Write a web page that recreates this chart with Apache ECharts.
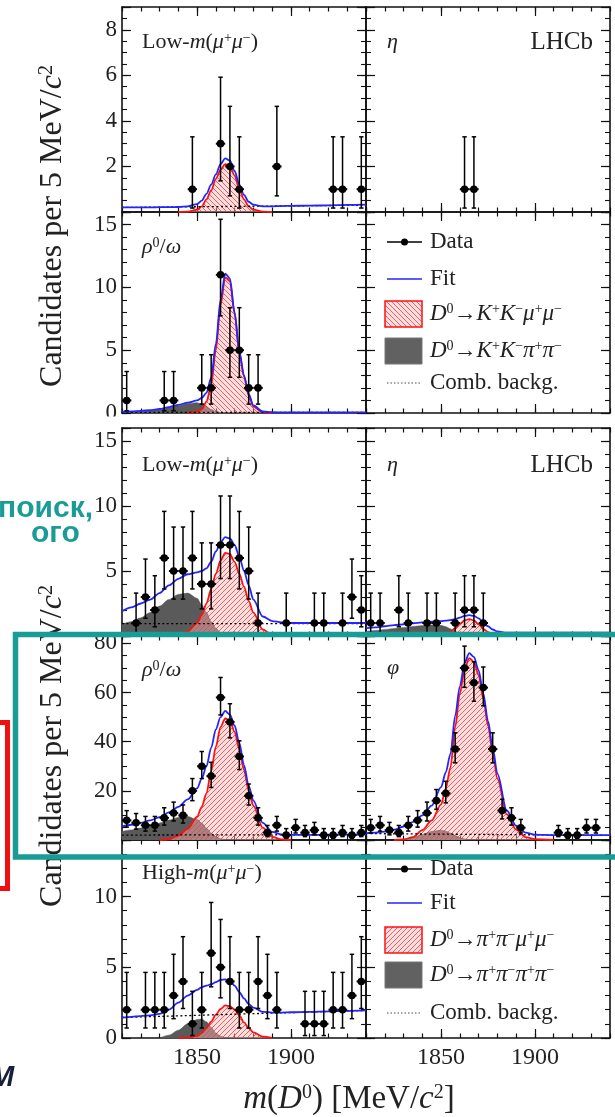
<!DOCTYPE html>
<html>
<head>
<meta charset="utf-8">
<title>D0 → h+h−μ+μ− candidates</title>
<script src="https://cdn.jsdelivr.net/npm/echarts@6.0.0/dist/echarts.min.js"></script>
<style>
  html, body { margin: 0; padding: 0; background: #ffffff; }
  #chart { width: 615px; height: 1117px; }
</style>
</head>
<body>
<div id="chart"></div>
<script>
// ---------- m(D0) binning, 5 MeV/c^2 per bin ----------
const BIN_CENTRES = [1812.5, 1817.5, 1822.5, 1827.5, 1832.5, 1837.5, 1842.5, 1847.5, 1852.5,
  1857.5, 1862.5, 1867.5, 1872.5, 1877.5, 1882.5, 1887.5, 1892.5, 1897.5, 1902.5, 1907.5,
  1912.5, 1917.5, 1922.5, 1927.5, 1932.5, 1937.5];

// ---------- candidates per bin ----------
const KK_LOW_COUNTS  = [0,0,0,0,0,0,0,1,0,0,3,2,1,0,0,0,2,0,0,0,0,0,1,1,0,1];
const KK_ETA_COUNTS  = [0,0,0,0,0,0,0,0,0,0,1,1,0,0,0,0,0,0,0,0,0,0,0,0,0,0];
const KK_RHO_COUNTS  = [1,0,0,0,1,1,0,0,2,2,11,5,5,2,2,0,0,0,0,0,0,0,0,0,0,0];
const PP_LOW_COUNTS  = [0,1,3,2,6,5,5,6,4,4,7,7,6,5,1,0,0,1,0,0,1,1,0,1,3,2];
const PP_ETA_COUNTS  = [1,1,0,2,1,0,1,1,0,1,2,2,1,0,0,0,0,0,0,0,0,0,0,0,0,0];
const PP_RHO_COUNTS  = [8,7,6,6,9,11,10,20,30,26,58,48,34,18,9,3,6,2,5,3,4,2,2,3,2,3];
const PP_PHI_COUNTS  = [5,6,4,3,6,8,11,16,19,37,70,64,62,37,12,9,5,0,0,0,3,2,2,5,5,0];
const PP_HIGH_COUNTS = [2,0,2,2,2,3,4,1,2,6,5,4,2,2,4,3,2,0,0,1,1,1,2,2,3,4];

// 68% Poisson intervals for small counts (n = 0..12)
const POISSON_LO = [0, 0.173, 0.708, 1.367, 2.086, 2.840, 3.620, 4.419, 5.232, 6.057, 6.891, 7.734, 8.585];
const POISSON_HI = [1.841, 3.300, 4.638, 5.918, 7.163, 8.382, 9.584, 10.77, 11.95, 13.11, 14.27, 15.42, 16.56];

// ---------- fit projections along m(D0) ----------
const FIT_M = [1810, 1815, 1820, 1825, 1830, 1835, 1840, 1845, 1850, 1852.5, 1855, 1857.5, 1860,
  1862.5, 1865, 1867.5, 1870, 1872.5, 1875, 1877.5, 1880, 1885, 1890, 1895, 1900, 1910, 1920, 1930, 1940];

const KK_LOW_FIT = [0.2,0.2,0.2,0.2,0.21,0.21,0.22,0.25,0.35,0.5,0.8,1.2,1.65,2.1,2.35,2.25,1.8,1.2,0.75,0.45,0.32,0.25,0.25,0.26,0.27,0.28,0.29,0.31,0.32];
const KK_LOW_SIG = [null,null,null,null,null,null,0,0.02,0.1,0.25,0.55,0.95,1.45,1.85,2.1,2.0,1.6,1.0,0.55,0.25,0.1,0.02,0,null,null,null,null,null,null];
const KK_LOW_COMB = [0.2, 0.3];

const KK_RHO_FIT = [0.1,0.13,0.17,0.23,0.32,0.47,0.65,0.82,1.0,1.2,1.6,2.8,5.5,9.0,11.1,10.7,8.0,4.9,3.0,1.5,0.6,0.12,0.06,0.05,0.05,0.05,0.05,0.05,0.05];
const KK_RHO_SIG = [null,null,null,null,null,null,null,0,0.1,0.3,0.9,2.2,5.0,8.6,10.8,10.5,7.9,4.8,2.9,1.4,0.5,0.05,0,null,null,null,null,null,null];
const KK_RHO_MISID = [0.05,0.08,0.12,0.18,0.27,0.42,0.6,0.76,0.82,0.72,0.5,0.28,0.12,0.04,0.01,0,null,null,null,null,null,null,null,null,null,null,null,null,null];
const KK_RHO_COMB = [0.05, 0.05];

const PP_LOW_FIT = [1.9,2.2,2.5,2.8,3.3,3.9,4.4,4.75,4.9,5.0,5.2,5.7,6.5,7.2,7.6,7.5,7.0,6.1,5.0,3.9,2.8,1.5,1.15,1.05,1.0,1.0,1.0,1.0,1.0];
const PP_LOW_SIG = [null,null,null,null,null,0,0.1,0.35,1.0,1.6,2.5,3.6,4.8,5.8,6.4,6.3,5.7,4.8,3.8,2.7,1.8,0.5,0.1,0,null,null,null,null,null];
const PP_LOW_MISID = [0.9,1.1,1.4,1.8,2.3,2.8,3.2,3.3,2.9,2.4,1.8,1.1,0.6,0.25,0.1,0.03,0,null,null,null,null,null,null,null,null,null,null,null,null];
const PP_LOW_COMB = [0.95, 0.95];

const PP_ETA_FIT = [0.6,0.67,0.75,0.83,0.9,0.98,1.05,1.1,1.15,1.18,1.22,1.3,1.42,1.55,1.6,1.55,1.35,1.05,0.75,0.5,0.35,0.26,0.25,0.25,0.25,0.25,0.25,0.25,0.25];
const PP_ETA_SIG = [null,null,null,null,null,null,null,null,0,0.1,0.3,0.6,0.95,1.2,1.3,1.2,0.9,0.55,0.3,0.12,0.05,0,null,null,null,null,null,null,null];
const PP_ETA_MISID = [0.35,0.42,0.5,0.58,0.65,0.73,0.8,0.85,0.82,0.72,0.55,0.35,0.2,0.1,0.04,0.01,0,null,null,null,null,null,null,null,null,null,null,null,null];
const PP_ETA_COMB = [0.25, 0.25];

const PP_RHO_FIT = [5.5,6.2,7.0,8.0,9.3,11.2,13.5,16.5,21,25,30,37.5,45,50,52.5,51,46.5,39.5,30.5,22,16,7,3.3,2.3,2.1,2.1,2.15,2.2,2.25];
const PP_RHO_SIG = [null,null,null,null,0,0.3,1.8,4.5,9.5,13.5,19,28,38,46,49.5,48.5,44,37,28.5,20,14,5,1.3,0.2,0,null,null,null,null];
const PP_RHO_MISID = [3.5,4.1,4.9,5.8,6.9,8.1,9.2,9.6,8.3,6.8,4.8,2.8,1.3,0.5,0.15,0.03,0,null,null,null,null,null,null,null,null,null,null,null,null];
const PP_RHO_COMB = [2.0, 2.2];

const PP_PHI_FIT = [2.8,3.0,3.4,4.2,5.5,7.3,10,14,21.5,27.5,35,50.5,62.5,72,76,74.5,69,59.5,48.5,37.5,27,12,5.8,3.0,2.2,2.0,2.0,2.0,2.0];
const PP_PHI_SIG = [null,null,null,0,0.2,1.2,4.0,8.0,14.5,21,29.5,46,59.5,69.5,74,72.5,67,57.5,46.5,35.5,25,10.5,4.2,1.2,0.3,0,null,null,null];
const PP_PHI_MISID = [null,null,null,0,0.3,1.0,2.2,3.5,4.0,3.6,2.8,1.8,0.9,0.4,0.1,0,null,null,null,null,null,null,null,null,null,null,null,null,null];
const PP_PHI_COMB = [2.6, 1.9];

const PP_HIGH_FIT = [1.45,1.5,1.55,1.6,1.7,2.0,2.5,3.0,3.4,3.6,3.7,3.8,3.95,4.1,4.15,4.05,3.7,3.25,2.8,2.4,2.15,1.85,1.8,1.8,1.82,1.85,1.88,1.92,1.95];
const PP_HIGH_SIG = [null,null,null,null,null,null,0,0.02,0.15,0.35,0.7,1.15,1.65,2.05,2.3,2.25,2.0,1.6,1.1,0.7,0.4,0.1,0,null,null,null,null,null,null];
const PP_HIGH_MISID = [null,null,null,null,0,0.2,0.55,1.0,1.3,1.35,1.15,0.75,0.35,0.12,0.03,0,null,null,null,null,null,null,null,null,null,null,null,null,null];
const PP_HIGH_COMB = [1.45, 1.95];

// ---------- tick labels ----------
const X_TICK_LABELS = [1850, 1900];
const Y_TICKS_KK_LOW = [2, 4, 6, 8];
const Y_TICKS_KK_RHO = [0, 5, 10, 15];
const Y_TICKS_PP_LOW = [5, 10, 15];
const Y_TICKS_PP_RHO = [20, 40, 60, 80];
const Y_TICKS_PP_HIGH = [0, 5, 10];

// ---------- styling ----------
const SERIF = '"Liberation Serif", "Times New Roman", "DejaVu Serif", serif';
const SANS = '"Liberation Sans", Arial, "DejaVu Sans", sans-serif';
const TEAL = '#1a9c96';
const FIT_BLUE = '#2424ff';
const SIG_RED = '#ff1010';
const MISID_GREY = '#5a5a5a';
const FRAME = '#111111';

function hatch(dir) {
  const s = 5;
  const c = document.createElement('canvas');
  c.width = s; c.height = s;
  const g = c.getContext('2d');
  g.fillStyle = 'rgba(255,185,185,0.45)';
  g.fillRect(0, 0, s, s);
  g.strokeStyle = 'rgba(240,70,70,0.85)';
  g.lineWidth = 1;
  g.beginPath();
  if (dir > 0) {
    g.moveTo(-1, s + 1); g.lineTo(s + 1, -1);
    g.moveTo(-1, 1); g.lineTo(1, -1);
    g.moveTo(s - 1, s + 1); g.lineTo(s + 1, s - 1);
  } else {
    g.moveTo(-1, -1); g.lineTo(s + 1, s + 1);
    g.moveTo(s - 1, -1); g.lineTo(s + 1, 1);
    g.moveTo(-1, s - 1); g.lineTo(1, s + 1);
  }
  g.stroke();
  return { image: c, repeat: 'repeat' };
}
const HATCH_KK = hatch(-1);
const HATCH_PP = hatch(1);

// panel layout: two columns, top figure (K+K-) and bottom figure (pi+pi-)
const PANELS = [
  { left: 122, top: 7,   height: 205, yMax: 9,  yMajor: 2,  yMinor: 0.5, yTicks: Y_TICKS_KK_LOW,
    counts: KK_LOW_COUNTS, fit: KK_LOW_FIT, sig: KK_LOW_SIG, misid: null, comb: KK_LOW_COMB, hatch: HATCH_KK },
  { left: 366, top: 7,   height: 205, yMax: 9,  yMajor: 2,  yMinor: 0.5,
    counts: KK_ETA_COUNTS },
  { left: 122, top: 212, height: 201, yMax: 16, yMajor: 5,  yMinor: 1, yTicks: Y_TICKS_KK_RHO,
    counts: KK_RHO_COUNTS, fit: KK_RHO_FIT, sig: KK_RHO_SIG, misid: KK_RHO_MISID, comb: KK_RHO_COMB, hatch: HATCH_KK },
  { left: 366, top: 212, height: 201, yMax: 16, yMajor: 5,  yMinor: 1 },
  { left: 122, top: 428, height: 208, yMax: 16, yMajor: 5,  yMinor: 1, yTicks: Y_TICKS_PP_LOW,
    counts: PP_LOW_COUNTS, fit: PP_LOW_FIT, sig: PP_LOW_SIG, misid: PP_LOW_MISID, comb: PP_LOW_COMB, hatch: HATCH_PP },
  { left: 366, top: 428, height: 208, yMax: 16, yMajor: 5,  yMinor: 1,
    counts: PP_ETA_COUNTS, fit: PP_ETA_FIT, sig: PP_ETA_SIG, misid: PP_ETA_MISID, comb: PP_ETA_COMB, hatch: HATCH_PP },
  { left: 122, top: 636, height: 204, yMax: 83, yMajor: 20, yMinor: 5, yTicks: Y_TICKS_PP_RHO,
    counts: PP_RHO_COUNTS, fit: PP_RHO_FIT, sig: PP_RHO_SIG, misid: PP_RHO_MISID, comb: PP_RHO_COMB, hatch: HATCH_PP },
  { left: 366, top: 636, height: 204, yMax: 83, yMajor: 20, yMinor: 5,
    counts: PP_PHI_COUNTS, fit: PP_PHI_FIT, sig: PP_PHI_SIG, misid: PP_PHI_MISID, comb: PP_PHI_COMB, hatch: HATCH_PP },
  { left: 122, top: 840, height: 198, yMax: 14, yMajor: 5,  yMinor: 1, yTicks: Y_TICKS_PP_HIGH, xLabels: true,
    counts: PP_HIGH_COUNTS, fit: PP_HIGH_FIT, sig: PP_HIGH_SIG, misid: PP_HIGH_MISID, comb: PP_HIGH_COMB, hatch: HATCH_PP },
  { left: 366, top: 840, height: 198, yMax: 14, yMajor: 5,  yMinor: 1, xLabels: true }
];
const PANEL_W = 244;

function curve(vals) {
  const out = [];
  FIT_M.forEach((m, i) => { if (vals[i] !== null) out.push([m, vals[i]]); });
  return out;
}
function points(counts) {
  const rows = [];
  counts.forEach((n, i) => {
    if (n <= 0) return;
    let lo, hi;
    if (n < POISSON_LO.length) { lo = POISSON_LO[n]; hi = POISSON_HI[n]; }
    else { const d = Math.sqrt(n + 0.25); lo = n + 0.5 - d; hi = n + 0.5 + d; }
    rows.push([BIN_CENTRES[i], n, lo, hi]);
  });
  return rows;
}
function renderPoint(params, api) {
  const m = api.value(0), n = api.value(1), lo = api.value(2), hi = api.value(3);
  const c = api.coord([m, n]);
  const t = api.coord([m, hi]);
  const b = api.coord([m, lo]);
  const l = api.coord([m - 2.5, n]);
  const r = api.coord([m + 2.5, n]);
  const st = { stroke: '#000', lineWidth: 1.5 };
  return { type: 'group', children: [
    { type: 'line', shape: { x1: c[0], y1: t[1], x2: c[0], y2: b[1] }, style: st },
    { type: 'line', shape: { x1: c[0] - 2.2, y1: t[1], x2: c[0] + 2.2, y2: t[1] }, style: st },
    { type: 'line', shape: { x1: c[0] - 2.2, y1: b[1], x2: c[0] + 2.2, y2: b[1] }, style: st },
    { type: 'line', shape: { x1: l[0], y1: c[1], x2: r[0], y2: c[1] }, style: { stroke: '#000', lineWidth: 2 } },
    { type: 'circle', shape: { cx: c[0], cy: c[1], r: 3.8 }, style: { fill: '#000' } }
  ]};
}

const grid = [], xAxis = [], yAxis = [], series = [];
const lineSt = { color: FRAME, width: 1.6 };
PANELS.forEach((p, gi) => {
  grid.push({ left: p.left, top: p.top, width: PANEL_W, height: p.height });
  const xi = xAxis.length, yi = yAxis.length;
  const bx = { gridIndex: gi, type: 'value', min: 1810, max: 1940, splitLine: { show: false } };
  ['bottom', 'top'].forEach(pos => {
    xAxis.push(Object.assign({}, bx, {
      position: pos, interval: 10,
      axisLine: { show: true, onZero: false, lineStyle: lineSt },
      axisTick: { show: true, inside: true, length: 4.5, lineStyle: { color: FRAME, width: 1.2 } },
      axisLabel: (pos === 'bottom' && p.xLabels) ? {
        show: true, customValues: X_TICK_LABELS,
        formatter: v => X_TICK_LABELS.indexOf(v) >= 0 ? String(v) : '',
        fontFamily: SERIF, fontSize: 24, color: '#222', margin: 8
      } : { show: false }
    }));
    xAxis.push(Object.assign({}, bx, {
      position: pos,
      axisLine: { show: false, onZero: false },
      axisTick: { show: true, inside: true, length: 9, customValues: X_TICK_LABELS, lineStyle: { color: FRAME, width: 1.2 } },
      axisLabel: { show: false }
    }));
  });
  const by = { gridIndex: gi, type: 'value', min: 0, max: p.yMax, splitLine: { show: false } };
  ['left', 'right'].forEach(pos => {
    yAxis.push(Object.assign({}, by, {
      position: pos, interval: p.yMajor,
      axisLine: { show: true, onZero: false, lineStyle: lineSt },
      axisTick: { show: true, inside: true, length: 9, lineStyle: { color: FRAME, width: 1.2 } },
      axisLabel: (pos === 'left' && p.yTicks) ? {
        show: true, formatter: v => p.yTicks.indexOf(v) >= 0 ? String(v) : '',
        fontFamily: SERIF, fontSize: 23, color: '#222', margin: 5
      } : { show: false }
    }));
    yAxis.push(Object.assign({}, by, {
      position: pos, interval: p.yMinor,
      axisLine: { show: false, onZero: false },
      axisTick: { show: true, inside: true, length: 5, lineStyle: { color: FRAME, width: 1.1 } },
      axisLabel: { show: false }
    }));
  });

  const common = { xAxisIndex: xi, yAxisIndex: yi, silent: true, animation: false };
  const smooth = { smooth: 0.3, smoothMonotone: 'x', showSymbol: false, symbol: 'none' };
  if (p.misid) {
    series.push(Object.assign({ type: 'line', data: curve(p.misid),
      lineStyle: { color: MISID_GREY, width: 0.5 }, areaStyle: { color: MISID_GREY, opacity: 1 } }, common, smooth));
  }
  if (p.sig) {
    series.push(Object.assign({ type: 'line', data: curve(p.sig),
      lineStyle: { color: SIG_RED, width: 1.8 }, areaStyle: { color: p.hatch, opacity: 1 } }, common, smooth));
  }
  if (p.comb) {
    series.push(Object.assign({ type: 'line', data: [[1810, p.comb[0]], [1940, p.comb[1]]],
      lineStyle: { color: '#000', width: 1.3, type: [2, 2.5] } }, common, smooth));
  }
  if (p.fit) {
    series.push(Object.assign({ type: 'line', data: curve(p.fit),
      lineStyle: { color: FIT_BLUE, width: 1.8 } }, common, smooth));
  }
  if (p.counts) {
    series.push(Object.assign({ type: 'custom', data: points(p.counts), renderItem: renderPoint,
      encode: { x: 0, y: 1 }, z: 5 }, common));
  }
});

// ---------- text helpers ----------
function rich(size) {
  return {
    it:  { fontFamily: SERIF, fontSize: size, fontStyle: 'italic' },
    sup: { fontFamily: SERIF, fontSize: Math.round(size * 0.62), verticalAlign: 'top' }
  };
}
function label(x, y, text, size, opt) {
  opt = opt || {};
  const al = opt.align || 'left';
  return {
    type: 'text', x: x, y: y, rotation: opt.rot || 0, z: opt.z || 40, silent: true,
    style: {
      x: 0, y: 0, text: text, fontFamily: opt.family || SERIF, fontSize: size,
      fontWeight: opt.weight || 'normal', fontStyle: opt.style || 'normal',
      fill: opt.fill || '#222',
      align: al, textAlign: al, verticalAlign: 'middle', textVerticalAlign: 'middle',
      rich: rich(size)
    }
  };
}
const g = [];

// panel captions
g.push(label(142, 42, 'Low-{it|m}({it|μ}{sup|+}{it|μ}{sup|−})', 22));
g.push(label(387, 42, '{it|η}', 22));
g.push(label(593, 42, 'LHCb', 25, { align: 'right' }));
g.push(label(142, 247, '{it|ρ}{sup|0}/{it|ω}', 22));
g.push(label(142, 465, 'Low-{it|m}({it|μ}{sup|+}{it|μ}{sup|−})', 22));
g.push(label(387, 465, '{it|η}', 22));
g.push(label(593, 465, 'LHCb', 25, { align: 'right' }));
g.push(label(142, 670, '{it|ρ}{sup|0}/{it|ω}', 22));
g.push(label(387, 668, '{it|φ}', 22));
g.push(label(142, 873, 'High-{it|m}({it|μ}{sup|+}{it|μ}{sup|−})', 22));

// legends
function legend(ys, sigText, misText, pattern) {
  const x1 = 387, x2 = 422, tx = 430;
  g.push({ type: 'line', z: 40, silent: true, shape: { x1: x1, y1: ys[0], x2: x2, y2: ys[0] }, style: { stroke: '#000', lineWidth: 1.5 } });
  g.push({ type: 'circle', z: 41, silent: true, shape: { cx: (x1 + x2) / 2, cy: ys[0], r: 3.5 }, style: { fill: '#000' } });
  g.push({ type: 'line', z: 40, silent: true, shape: { x1: x1, y1: ys[1], x2: x2, y2: ys[1] }, style: { stroke: FIT_BLUE, lineWidth: 1.6 } });
  g.push({ type: 'rect', z: 40, silent: true, shape: { x: 385, y: ys[2] - 13, width: 37, height: 26 }, style: { fill: pattern, stroke: SIG_RED, lineWidth: 1.5 } });
  g.push({ type: 'rect', z: 40, silent: true, shape: { x: 385, y: ys[3] - 13, width: 37, height: 26 }, style: { fill: '#616161', stroke: '#777', lineWidth: 1 } });
  g.push({ type: 'line', z: 40, silent: true, shape: { x1: x1, y1: ys[4], x2: x2, y2: ys[4] }, style: { stroke: '#888', lineWidth: 1.3, lineDash: [1.5, 2] } });
  g.push(label(tx, ys[0], 'Data', 23));
  g.push(label(tx, ys[1], 'Fit', 23));
  g.push(label(tx, ys[2], sigText, 23));
  g.push(label(tx, ys[3], misText, 23));
  g.push(label(tx, ys[4], 'Comb. backg.', 23));
}
legend([242, 279, 314, 351, 383],
  '{it|D}{sup|0}→{it|K}{sup|+}{it|K}{sup|−}{it|μ}{sup|+}{it|μ}{sup|−}',
  '{it|D}{sup|0}→{it|K}{sup|+}{it|K}{sup|−}{it|π}{sup|+}{it|π}{sup|−}', HATCH_KK);
legend([869, 903, 940, 975, 1013],
  '{it|D}{sup|0}→{it|π}{sup|+}{it|π}{sup|−}{it|μ}{sup|+}{it|μ}{sup|−}',
  '{it|D}{sup|0}→{it|π}{sup|+}{it|π}{sup|−}{it|π}{sup|+}{it|π}{sup|−}', HATCH_PP);

// axis titles
g.push(label(53, 226, 'Candidates per 5 MeV/{it|c}{sup|2}', 32, { align: 'center', rot: Math.PI / 2 }));
g.push(label(53, 746, 'Candidates per 5 MeV/{it|c}{sup|2}', 32, { align: 'center', rot: Math.PI / 2 }));
g.push(label(349, 1099, '{it|m}({it|D}{sup|0}) [MeV/{it|c}{sup|2}]', 33, { align: 'center' }));

// gap between the two figures
g.push({ type: 'rect', z: 60, silent: true, shape: { x: 0, y: 416.5, width: 615, height: 10.5 }, style: { fill: '#ffffff' } });

// slide annotations drawn over the figure
g.push({ type: 'rect', z: 90, silent: true, shape: { x: 15.5, y: 634.5, width: 650, height: 222.5 }, style: { fill: 'none', stroke: TEAL, lineWidth: 5.5 } });
g.push({ type: 'rect', z: 90, silent: true, shape: { x: -50, y: 722.5, width: 57.5, height: 166 }, style: { fill: 'none', stroke: '#f01010', lineWidth: 5 } });
g.push(label(93, 509, 'поиск,', 30, { align: 'right', family: SANS, weight: 'bold', fill: TEAL, z: 91 }));
g.push(label(31, 534, 'ого', 30, { family: SANS, weight: 'bold', fill: TEAL, z: 91 }));
g.push(label(-10, 1078, 'M', 29, { family: SANS, style: 'italic', weight: 'bold', fill: '#18203a', z: 91 }));

const chart = echarts.init(document.getElementById('chart'), null, { renderer: 'canvas' });
chart.setOption({
  animation: false,
  backgroundColor: '#ffffff',
  grid: grid,
  xAxis: xAxis,
  yAxis: yAxis,
  series: series,
  graphic: { elements: g }
});
</script>
</body>
</html>
